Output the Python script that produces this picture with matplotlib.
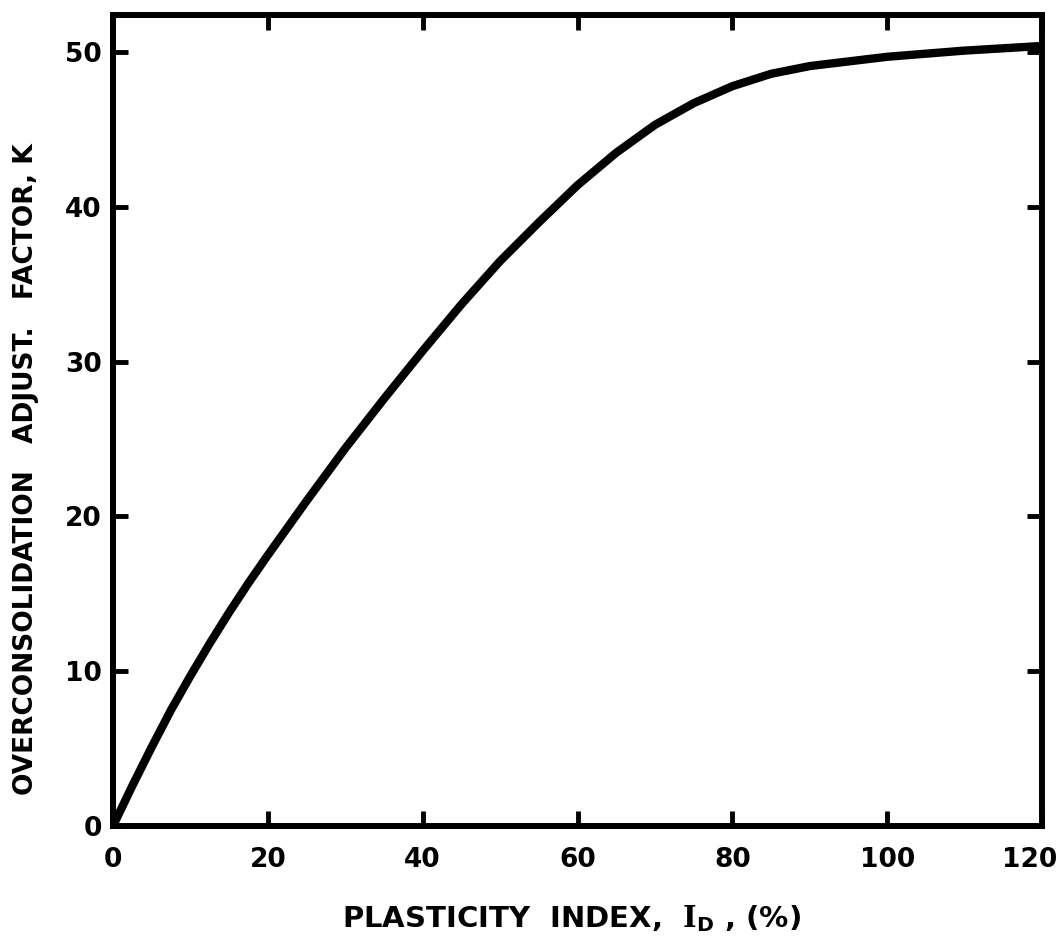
import matplotlib
matplotlib.use('Agg')
import matplotlib.pyplot as plt
import matplotlib.transforms as mtransforms

# Curve (plasticity index vs. adjustment factor K)
plasticity_index = [0, 2.5, 5, 7.5, 10, 12.5, 15, 17.5, 20, 25, 30, 35, 40,
                    45, 50, 55, 60, 65, 70, 75, 80, 85, 90, 95, 100, 110, 120]
k_factor = [0, 2.6, 5.1, 7.5, 9.7, 11.8, 13.8, 15.7, 17.5, 21.0, 24.4, 27.6,
            30.7, 33.7, 36.5, 39.0, 41.4, 43.5, 45.3, 46.7, 47.8, 48.6, 49.1,
            49.4, 49.7, 50.1, 50.4]

x_ticks = [0, 20, 40, 60, 80, 100, 120]
y_ticks = [0, 10, 20, 30, 40, 50]

plt.rcParams['font.family'] = ['DejaVu Sans']
plt.rcParams['mathtext.fontset'] = 'custom'
plt.rcParams['mathtext.rm'] = 'DejaVu Serif:bold'
plt.rcParams['mathtext.sf'] = 'DejaVu Sans:bold'

fig = plt.figure(figsize=(10.61, 9.40), dpi=100)
ax = fig.add_axes([113 / 1061, 114 / 940, 929 / 1061, 811 / 940])

ax.plot(plasticity_index, k_factor, color='black', lw=6,
        solid_capstyle='round', solid_joinstyle='round')

ax.set_xlim(0, 120)
ax.set_ylim(0, 52.4)
ax.set_xticks(x_ticks)
ax.set_yticks(y_ticks)
ax.set_xticklabels([str(t) for t in x_ticks])
ax.set_yticklabels([str(t) for t in y_ticks])

for side in ax.spines.values():
    side.set_linewidth(4.3)
    side.set_capstyle('projecting')

ax.tick_params(direction='in', length=11, width=3.5, top=True, right=True,
               labelsize=19, colors='black')
ax.tick_params(axis='x', pad=15)
ax.tick_params(axis='y', pad=8)
for lbl in ax.get_xticklabels() + ax.get_yticklabels():
    lbl.set_fontweight('bold')

# last x label sits a bit inside the frame, like the original
last = ax.get_xticklabels()[-1]
last.set_transform(last.get_transform() +
                   mtransforms.ScaledTranslation(-12 / 100, 0, fig.dpi_scale_trans))

ax.set_xlabel(r'PLASTICITY  INDEX,  $\mathrm{I}_{\mathsf{D}}$ , (%)', fontsize=21,
              fontweight='bold')
ax.xaxis.set_label_coords(0.493, -0.095)
ax.set_ylabel('OVERCONSOLIDATION   ADJUST.   FACTOR, K', fontsize=19,
              fontweight='bold')
ax.yaxis.set_label_coords(-0.080, 0.44)

fig.savefig('out.png', dpi=100, facecolor='white')
